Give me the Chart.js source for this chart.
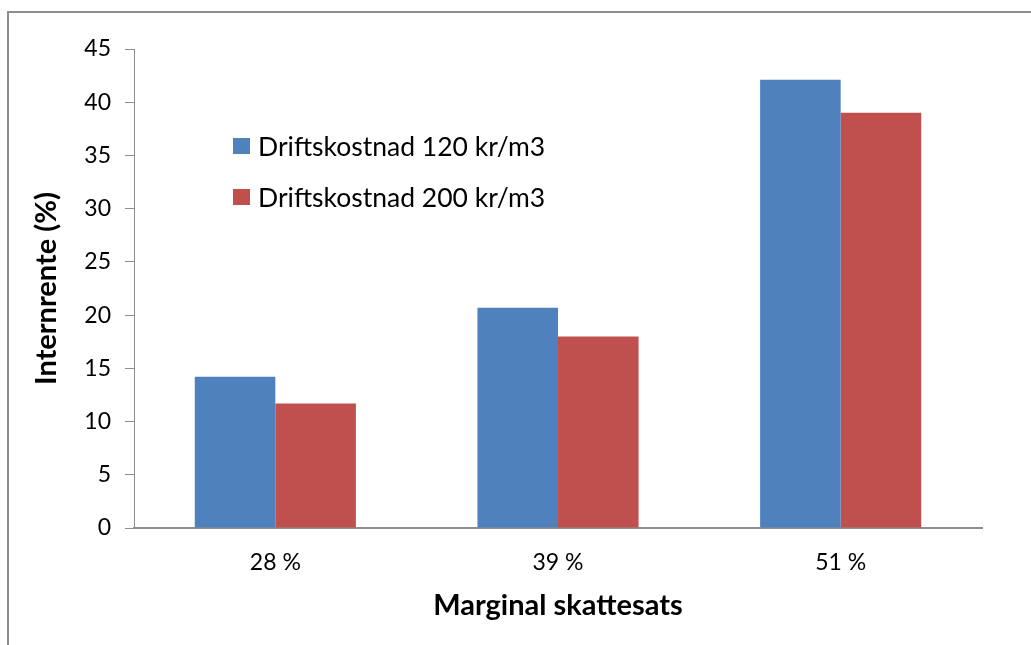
<!DOCTYPE html>
<html>
<head>
<meta charset="utf-8">
<script src="https://cdn.jsdelivr.net/npm/chart.js@4.4.1/dist/chart.umd.min.js"></script>
<style>
  html, body { margin: 0; padding: 0; background: #fff; overflow: hidden; }
  #wrap { position: relative; width: 1031px; height: 645px; }
  #frame { position: absolute; left: 7px; top: 11px; width: 1100px; height: 700px; border: 2px solid #8e8e8e; box-sizing: border-box; }
  canvas { position: absolute; left: 0; top: 0; }
</style>
</head>
<body>
<div id="wrap">
  <div id="frame"></div>
  <canvas id="chart" width="1031" height="645"></canvas>
</div>
<script>
// Data
const kategorier = ['28 %', '39 %', '51 %'];
const serieNamn = ['Driftskostnad 120 kr/m3', 'Driftskostnad 200 kr/m3'];
const drift120 = [14.2, 20.7, 42.1];
const drift200 = [11.7, 18.0, 39.0];
const yMax = 45;
const yStep = 5;

const FONT = 'Lato, "Open Sans", sans-serif';

// Legend drawn inside the plot area, like the original
const innerLegend = {
  id: 'innerLegend',
  afterDraw(chart) {
    const ctx = chart.ctx;
    ctx.save();
    ctx.font = '26.5px ' + FONT;
    ctx.textBaseline = 'middle';
    chart.data.datasets.forEach((ds, i) => {
      const y = 146 + i * 51;
      ctx.fillStyle = ds.backgroundColor;
      ctx.fillRect(233, y - 8, 17, 16);
      ctx.fillStyle = '#000';
      ctx.fillText(ds.label, 258, y + 1);
    });
    ctx.restore();
  }
};

new Chart(document.getElementById('chart'), {
  type: 'bar',
  data: {
    labels: kategorier,
    datasets: [
      { label: serieNamn[0], data: drift120, backgroundColor: '#4f81bd' },
      { label: serieNamn[1], data: drift200, backgroundColor: '#c0504d' }
    ]
  },
  options: {
    responsive: false,
    animation: false,
    devicePixelRatio: 1,
    layout: { padding: { top: 49, right: 49, left: 25, bottom: 18 } },
    datasets: { bar: { categoryPercentage: 0.57, barPercentage: 1.0 } },
    plugins: {
      legend: { display: false },
      tooltip: { enabled: false }
    },
    scales: {
      x: {
        grid: { display: false },
        border: { display: true, color: '#8e8e8e', width: 2 },
        ticks: { color: '#000', font: { family: FONT, size: 23 }, padding: 13 },
        title: {
          display: true,
          text: 'Marginal skattesats',
          color: '#000',
          font: { family: FONT, size: 29, weight: 'bold' },
          padding: { top: 4 }
        },
        afterFit(scale) { scale.height = 99; }
      },
      y: {
        min: 0,
        max: yMax,
        ticks: { stepSize: yStep, color: '#000', font: { family: FONT, size: 23 }, padding: 14 },
        grid: { display: true, drawOnChartArea: false, drawTicks: true, tickLength: 9, color: '#8e8e8e', lineWidth: 1 },
        border: { display: true, color: '#8e8e8e', width: 1 },
        title: {
          display: true,
          text: 'Internrente (%)',
          color: '#000',
          font: { family: FONT, size: 29, weight: 'bold' },
          padding: { bottom: 8 }
        },
        afterFit(scale) { scale.width = 109; }
      }
    }
  },
  plugins: [innerLegend]
});
</script>
</body>
</html>
